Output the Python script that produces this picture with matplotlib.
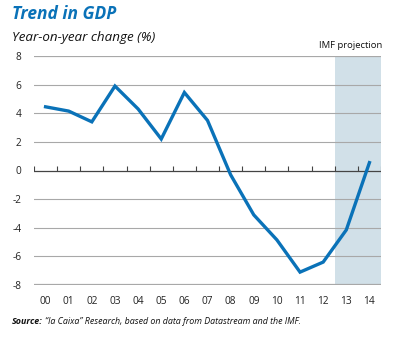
import numpy as np
import matplotlib
matplotlib.use("Agg")
import matplotlib.pyplot as plt

plt.rcParams['font.family'] = ['Open Sans', 'DejaVu Sans']

years = ['00', '01', '02', '03', '04', '05', '06', '07', '08', '09', '10', '11', '12', '13', '14']
gdp = [4.45, 4.15, 3.4, 5.9, 4.3, 2.2, 5.45, 3.5, -0.3, -3.1, -4.85, -7.1, -6.4, -4.15, 0.55]
proj_start = 13  # IMF projection from 2013
yticks = [8, 6, 4, 2, 0, -2, -4, -6, -8]

blue = '#0A72B8'
shade = '#D1E0E8'

fig = plt.figure(figsize=(3.95, 3.38), dpi=100)
ax = fig.add_axes([34/395, 1 - 285/338, 347/395, 229/338])

x = np.arange(len(years))
ax.set_xlim(-0.5, len(years) - 0.5)
ax.set_ylim(-8, 8)

# projection band
ax.axvspan(proj_start - 0.5, len(years) - 0.5, color=shade, lw=0, zorder=0)

# gridlines
for v in yticks:
    if v == 0:
        continue
    lw = 1.6 if abs(v) == 8 else 0.8
    ax.axhline(v, color='#A8A8A8', lw=lw, zorder=1)
ax.axhline(0, color='#444444', lw=0.9, zorder=2)
ax.vlines(np.arange(-0.5, len(years)), 0, 0.3, color='#444444', lw=0.8, zorder=2)

ax.plot(x, gdp, color=blue, lw=2.4, solid_joinstyle='miter', zorder=3)

ax.set_xticks(x)
ax.set_xticklabels(years, fontsize=7.3)
ax.set_yticks(yticks)
ax.set_yticklabels([str(v) for v in yticks], fontsize=7.3)
ax.tick_params(axis='both', length=0, colors='#222222')
ax.tick_params(axis='y', pad=9)
ax.tick_params(axis='x', pad=8)
for s in ax.spines.values():
    s.set_visible(False)

fig.text(12/395, 1 - 14/338, 'Trend in GDP', fontsize=12.5, fontweight='bold',
         fontstyle='italic', color=blue, va='center', ha='left')
fig.text(12/395, 1 - 38/338, 'Year-on-year change (%)', fontsize=9.6,
         fontstyle='italic', color='#111111', va='center', ha='left')
fig.text(382/395, 1 - 45/338, 'IMF projection', fontsize=6.8,
         color='#111111', va='center', ha='right')

src = fig.text(12/395, 1 - 322/338, 'Source:', fontsize=6.4, fontweight='bold',
               fontstyle='italic', color='#111111', va='center', ha='left')
fig.canvas.draw()
bb = src.get_window_extent(renderer=fig.canvas.get_renderer())
fig.text((bb.x1 + 2) / 395, 1 - 322/338,
         '\u201cla Caixa\u201d Research, based on data from Datastream and the IMF.',
         fontsize=6.4, fontstyle='italic', color='#111111', va='center', ha='left')

fig.savefig('out.png', dpi=100)
